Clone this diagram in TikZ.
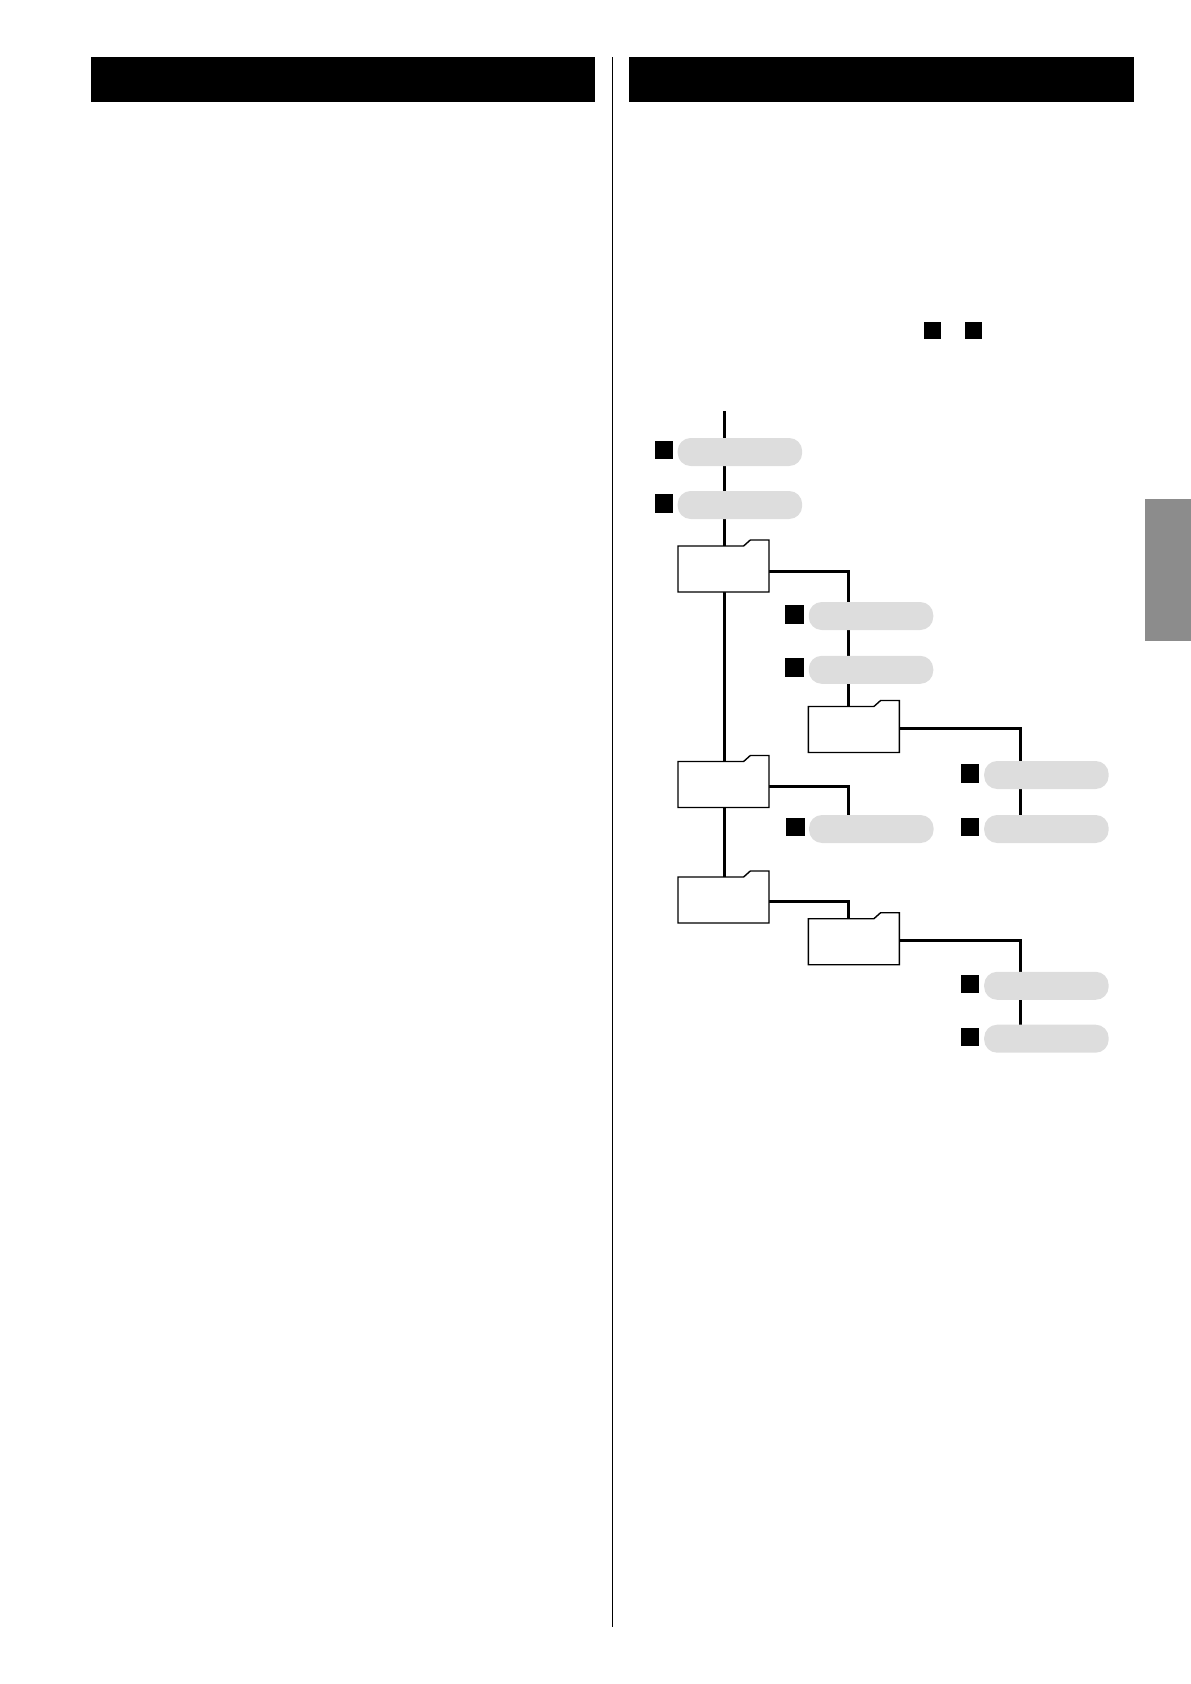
\documentclass[tikz,border=0pt]{standalone}
\usetikzlibrary{backgrounds}
\tikzset{
  pill/.style={fill=pillgray,minimum width=124.5pt,minimum height=28pt,inner sep=0pt,outer sep=0pt,rounded corners=13pt},
  sq/.style={fill=black,minimum width=18.5pt,minimum height=18.5pt,inner sep=0pt,outer sep=0pt},
  folderbox/.style={minimum width=91pt,minimum height=46pt,inner sep=0pt,outer sep=0pt},
  folderline/.style={draw=black,fill=white,line width=1.4pt,line join=miter},
  conn/.style={draw=black,line width=3pt,line cap=butt,line join=miter},
  headbar/.style={fill=black,minimum height=45pt,inner sep=0pt,outer sep=0pt}
}
\definecolor{pillgray}{HTML}{DDDDDD}
\definecolor{tabgray}{HTML}{8C8C8C}
\newcommand{\folderat}[3]{%
  \node[folderbox] (#1) at (#2,#3) {};
  \draw[folderline] (#1.south west) -- (#1.north west) -- ([xshift=65.6pt]#1.north west)
    -- ([xshift=72.3pt,yshift=6pt]#1.north west) -- ([yshift=6pt]#1.north east) -- (#1.south east) -- cycle;
}
\begin{document}
\begin{tikzpicture}[x=1pt,y=-1pt]
\useasboundingbox (0,0) rectangle (1191,1684);
% page furniture
\node[headbar,minimum width=504pt] (barL) at (343,79.5) {};
\node[headbar,minimum width=505pt] (barR) at (881.5,79.5) {};
\coordinate (ruleTop) at (612.7,57);
\coordinate (ruleEnd) at (612.7,1627);
\draw[line width=1.3pt,draw=black] (ruleTop) -- (ruleEnd);
\node[fill=tabgray,minimum width=46pt,minimum height=142.5pt,inner sep=0pt] (sidetab) at (1168,569.8) {};
\node[sq,minimum width=17pt,minimum height=17pt] (keyA) at (932.5,330.5) {};
\node[sq,minimum width=17pt,minimum height=17pt] (keyB) at (973.5,330.5) {};
% tree nodes
\node[pill] (p1) at (739.9,452) {};
\node[pill] (p2) at (739.9,505) {};
\node[sq] (s1) at (664.2,450) {};
\node[sq] (s2) at (664.2,503.3) {};
\folderat{f1}{723.5}{569}
\node[pill] (p3) at (871,616) {};
\node[pill] (p4) at (871,669.8) {};
\node[sq] (s3) at (794.5,614.5) {};
\node[sq] (s4) at (794.5,667.5) {};
\folderat{f2}{853.8}{729.5}
\folderat{f3}{723.5}{784.5}
\node[pill] (p5) at (1046.4,775) {};
\node[pill] (p6) at (1046.4,829) {};
\node[sq] (s5) at (970,773.3) {};
\node[sq] (s6) at (970,826.8) {};
\node[pill] (p7) at (871.3,829) {};
\node[sq] (s7) at (795.5,826.8) {};
\folderat{f4}{723.5}{900}
\folderat{f5}{853.8}{941.7}
\node[pill] (p8) at (1046.4,985.8) {};
\node[pill] (p9) at (1046.4,1038.7) {};
\node[sq] (s8) at (970,984) {};
\node[sq] (s9) at (970,1037) {};
% connector anchors
\coordinate (rootT) at (724.3,411);
\coordinate (b1) at (848.3,707);
\coordinate (b2) at (1020.3,1);
\coordinate (b3) at (848.3,816);
\coordinate (b4) at (848.3,919);
\begin{scope}[on background layer]
\draw[conn] (rootT) -- (rootT |- f4.north);
\draw[conn] ([yshift=-2.3pt]f1.east) -| (b1);
\draw[conn] ([yshift=1.2pt]f2.east) -| (b2 |- p6.north);
\draw[conn] ([yshift=-2.2pt]f3.east) -| (b3);
\draw[conn] ([yshift=-1pt]f4.east) -| (b4);
\draw[conn] ([yshift=1.7pt]f5.east) -| (b2 |- p9.north);
\end{scope}
\end{tikzpicture}
\end{document}
